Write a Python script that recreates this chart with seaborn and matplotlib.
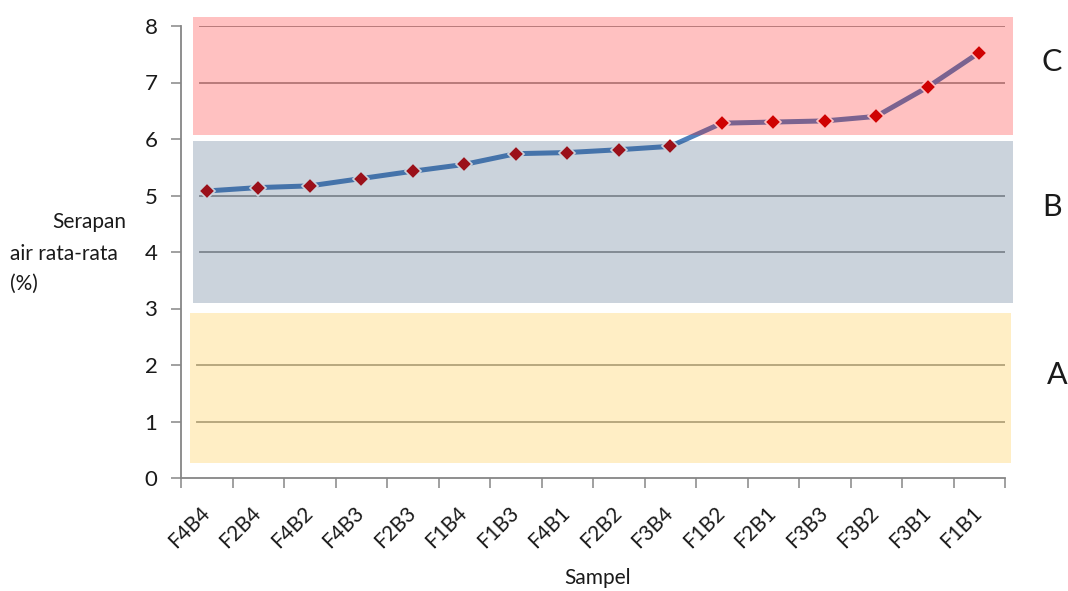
import matplotlib
matplotlib.use("Agg")
import matplotlib.pyplot as plt
from matplotlib.patches import Rectangle
import seaborn as sns
import pandas as pd

samples = ["F4B4", "F2B4", "F4B2", "F4B3", "F2B3", "F1B4", "F1B3", "F4B1",
           "F2B2", "F3B4", "F1B2", "F2B1", "F3B3", "F3B2", "F3B1", "F1B1"]
absorption = [5.08, 5.14, 5.17, 5.30, 5.43, 5.55, 5.74, 5.76,
              5.81, 5.87, 6.28, 6.30, 6.32, 6.40, 6.92, 7.53]
y_ticks = [0, 1, 2, 3, 4, 5, 6, 7, 8]
zone_labels = ["A", "B", "C"]
zone_bounds = [(0.27, 2.92), (3.10, 5.96), (6.07, 8.16)]

sns.set_style("white")
plt.rcParams["font.family"] = ["Lato", "DejaVu Sans"]

fig = plt.figure(figsize=(10.68, 5.91), dpi=100)
ax = fig.add_axes([181 / 1068, 1 - 478 / 591, (1005 - 181) / 1068, (478 - 26) / 591])

df = pd.DataFrame({"Sampel": samples, "Serapan": absorption})

# gridlines
ax.hlines(y_ticks[1:], -0.27, 15.5, colors="#868686", linewidth=1.1, zorder=0.5)

# white separating borders of the zones
zone_x = [(-0.32, 15.62), (-0.27, 15.66), (-0.27, 15.66)]
zone_colors = [((1.0, 0.75, 0.106), 0.25), ((0.15, 0.28, 0.43), 0.24), ((1.0, 0.043, 0.043), 0.25)]
for (x0, x1), (y0, y1) in zip(zone_x, zone_bounds):
    ax.add_patch(Rectangle((x0, y0), x1 - x0, y1 - y0, facecolor="none",
                           edgecolor="white", linewidth=8, zorder=1, clip_on=False))

sns.lineplot(data=df, x="Sampel", y="Serapan", sort=False, ax=ax,
             color=(79 / 255, 129 / 255, 189 / 255), linewidth=3.6,
             marker="D", markersize=8, markerfacecolor=(192 / 255, 0, 0),
             markeredgecolor="white", markeredgewidth=1.2, zorder=2)

for (x0, x1), (y0, y1), (c, a) in zip(zone_x, zone_bounds, zone_colors):
    ax.add_patch(Rectangle((x0, y0), x1 - x0, y1 - y0, facecolor=c, alpha=a,
                           edgecolor="none", zorder=3, clip_on=False))

ax.set_yticks(y_ticks)
ax.set_yticklabels([str(v) for v in y_ticks], fontsize=16, color="#1a1a1a")
ax.set_xticks(list(range(len(samples))))
ax.set_xticklabels(samples, rotation=45, ha="right", va="center",
                   rotation_mode="anchor", fontsize=15, color="#1a1a1a")
# category boundary ticks on the x axis
ax.set_xticks([i - 0.5 for i in range(len(samples) + 1)], minor=True)
ax.set_xlim(-0.5, 15.5)
ax.set_ylim(0, 8)
ax.set_xlabel("")
ax.set_ylabel("")

for s in ["top", "right"]:
    ax.spines[s].set_visible(False)
for s in ["left", "bottom"]:
    ax.spines[s].set_color("#868686")
    ax.spines[s].set_linewidth(1.3)

ax.tick_params(axis="y", direction="out", length=7, width=1.1, color="#868686", pad=10, left=True)
ax.tick_params(axis="x", which="major", direction="out", length=0, pad=23, bottom=True)
ax.tick_params(axis="x", which="minor", direction="out", length=7, width=1.1,
               color="#868686", bottom=True)

fig.text(126 / 1068, 1 - 222 / 591, "Serapan", ha="right", va="center", fontsize=15, color="#1a1a1a")
fig.text(10 / 1068, 1 - 254 / 591, "air rata-rata", ha="left", va="center", fontsize=15, color="#1a1a1a")
fig.text(10 / 1068, 1 - 284 / 591, "(%)", ha="left", va="center", fontsize=15, color="#1a1a1a")
fig.text(598 / 1068, 1 - 578 / 591, "Sampel", ha="center", va="center", fontsize=15, color="#1a1a1a")

for lbl, (xp, yp) in zip(zone_labels, [(1057, 375), (1052, 207), (1052, 62)]):
    fig.text(xp / 1068, 1 - yp / 591, lbl, ha="center", va="center", fontsize=22, color="#1a1a1a")

fig.savefig("out.png", dpi=100)
